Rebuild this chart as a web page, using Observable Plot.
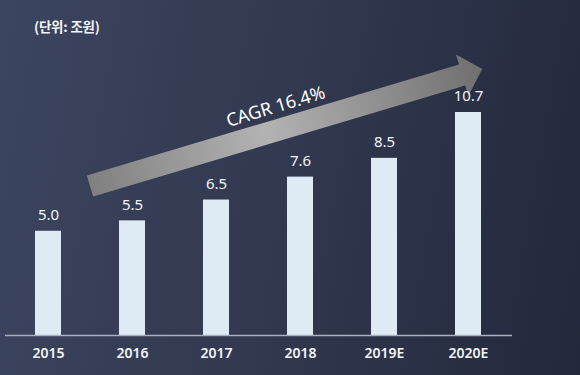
<!DOCTYPE html>
<html>
<head>
<meta charset="utf-8">
<script src="https://cdn.jsdelivr.net/npm/d3@7"></script>
<script src="https://cdn.jsdelivr.net/npm/@observablehq/plot@0.6"></script>
<style>
  html, body { margin: 0; padding: 0; }
  #wrap {
    position: relative; width: 580px; height: 375px; overflow: hidden;
    background: linear-gradient(100deg, #3c4560 0%, #31384f 50%, #23283b 100%);
    font-family: "Noto Sans CJK KR", "Noto Sans", sans-serif;
  }
  #unit {
    position: absolute; left: 34px; top: 16px; color: #f2f5f9;
    font-size: 13.5px; font-weight: 600; letter-spacing: -0.2px;
  }
  #chart { position: absolute; left: 0; top: 0; }
</style>
</head>
<body>
<div id="wrap">
  <div id="unit">(단위: 조원)</div>
  <div id="chart"></div>
</div>
<script>
// Data
const years = ["2015", "2016", "2017", "2018", "2019E", "2020E"];
const values = [5.0, 5.5, 6.5, 7.6, 8.5, 10.7];
const valueLabels = ["5.0", "5.5", "6.5", "7.6", "8.5", "10.7"];
const unitLabel = "(단위: 조원)";
const cagrLabel = "CAGR 16.4%";
// Arrow anchors: [year, fraction of band step to the right of centre, value]
const arrowFrom = ["2015", 0.5, 7.15];
const arrowTo = ["2020E", 0.17, 12.76];

const data = years.map((y, i) => ({year: y, value: values[i], label: valueLabels[i]}));

function arrowMark(index, scales, values, dims) {
  const x = scales.x, y = scales.y;
  let bw = x.bandwidth;
  bw = typeof bw === "function" ? bw() : (bw || 0);
  const step = x(years[1]) - x(years[0]);
  const px = (a) => [x(a[0]) + bw / 2 + a[1] * step, y(a[2])];
  const [x0, y0] = px(arrowFrom);
  const [x1, y1] = px(arrowTo);
  const L = Math.hypot(x1 - x0, y1 - y0);
  const ang = Math.atan2(y1 - y0, x1 - x0) * 180 / Math.PI;
  const shaft = 11, head = 21.5, headLen = 21;
  const ns = "http://www.w3.org/2000/svg";
  const g = document.createElementNS(ns, "g");
  g.setAttribute("transform", `translate(${x0},${y0}) rotate(${ang})`);
  const defs = document.createElementNS(ns, "defs");
  defs.innerHTML = `<linearGradient id="agrad" x1="0" y1="0" x2="${L}" y2="0" gradientUnits="userSpaceOnUse">
     <stop offset="0" stop-color="#808080"/>
     <stop offset="0.45" stop-color="#b3b3b3"/>
     <stop offset="1" stop-color="#6f6f6f"/></linearGradient>`;
  g.appendChild(defs);
  const p = document.createElementNS(ns, "path");
  const b = L - headLen;
  p.setAttribute("d", `M0,${-shaft}L${b},${-shaft}L${b},${-head}L${L},0L${b},${head}L${b},${shaft}L0,${shaft}Z`);
  p.setAttribute("fill", "url(#agrad)");
  g.appendChild(p);
  const t = document.createElementNS(ns, "text");
  t.setAttribute("x", L * 0.49);
  t.setAttribute("y", -24);
  t.setAttribute("text-anchor", "middle");
  t.setAttribute("dominant-baseline", "central");
  t.setAttribute("fill", "#ffffff");
  t.setAttribute("font-size", "18");
  t.setAttribute("font-family", "'Noto Sans', sans-serif");
  t.textContent = cagrLabel;
  g.appendChild(t);
  return g;
}

const chart = Plot.plot({
  width: 580,
  height: 375,
  marginLeft: 5,
  marginRight: 68,
  marginTop: 0,
  marginBottom: 40,
  style: {background: "transparent", color: "#f2f5f9", fontFamily: "'Noto Sans', sans-serif"},
  x: {domain: years, paddingInner: 0.686, paddingOuter: 0.343, label: null, tickSize: 0, tickPadding: 12},
  y: {domain: [0, 10.7], range: [335, 112], axis: null},
  marks: [
    arrowMark,
    Plot.barY(data, {x: "year", y: "value", fill: "#deebf5"}),
    Plot.ruleY([0], {stroke: "#a9b1be", strokeWidth: 1.5}),
    Plot.text(data, {x: "year", y: "value", text: "label", dy: -16, fill: "#f2f5f9", fontSize: 15}),
    Plot.axisX({tickSize: 0, tickPadding: 13, fontSize: 14, fontWeight: 600, fill: "#f2f5f9", label: null})
  ]
});
document.getElementById("chart").appendChild(chart);
</script>
</body>
</html>
